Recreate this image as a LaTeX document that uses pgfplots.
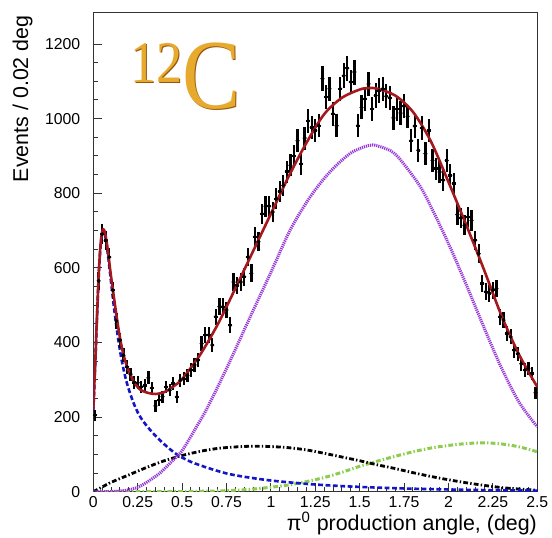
\documentclass[border=0pt]{standalone}
\usepackage{graphicx}
\usepackage{pgfplots}
\usepackage{pgfplotstable}
\pgfplotsset{compat=1.18}
\usepackage{fontspec}
\setmainfont{Liberation Sans}
\newfontfamily\goldserif{Liberation Serif}
\definecolor{fitred}{RGB}{165,25,30}
\definecolor{cblue}{RGB}{20,20,200}
\definecolor{cpurple}{RGB}{150,55,215}
\definecolor{cgreen}{RGB}{140,205,80}
\definecolor{goldA}{RGB}{232,170,45}
\definecolor{goldB}{RGB}{150,85,15}

\pgfplotstableread{
x y ey
0.01 205 14.3
0.03 565 23.8
0.05 690 26.3
0.07 673 25.9
0.09 629 25.1
0.11 540 23.2
0.13 458 21.4
0.15 406 20.1
0.17 366 19.1
0.19 335 18.3
0.21 315 17.7
0.23 293 17.1
0.25 292 17.1
0.27 281 16.8
0.29 285 16.9
0.31 305 17.5
0.33 278 16.7
0.35 230 15.2
0.37 245 15.7
0.39 255 16.0
0.41 281 16.8
0.43 272 16.5
0.45 290 17.0
0.47 254 15.9
0.49 299 17.3
0.51 303 17.4
0.53 312 17.7
0.55 326 18.1
0.57 340 18.4
0.59 353 18.8
0.61 397 19.9
0.63 420 20.5
0.65 420 20.5
0.67 393 19.8
0.69 469 21.7
0.71 496 22.3
0.73 496 22.3
0.75 487 22.1
0.77 446 21.1
0.79 562 23.7
0.81 553 23.5
0.83 562 23.7
0.85 576 24.0
0.87 629 25.1
0.89 585 24.2
0.91 683 26.1
0.93 670 25.9
0.95 745 27.3
0.97 765 27.7
0.99 765 27.7
1.01 750 27.4
1.03 785 28.0
1.05 805 28.4
1.07 821 28.7
1.09 858 29.3
1.11 875 29.6
1.13 900 30.0
1.15 941 30.7
1.17 879 29.6
1.19 948 30.8
1.21 994 31.5
1.23 976 31.2
1.25 968 31.1
1.27 981 31.3
1.29 1107 33.3
1.31 1058 32.5
1.33 1080 32.9
1.35 1013 31.8
1.37 981 31.3
1.39 1080 32.9
1.41 1115 33.4
1.43 1135 33.7
1.45 1098 33.1
1.47 1125 33.5
1.49 981 31.3
1.51 1030 32.1
1.53 1053 32.4
1.55 1093 33.1
1.57 1026 32.0
1.59 1062 32.6
1.61 1075 32.8
1.63 1080 32.9
1.65 1060 32.6
1.67 1055 32.5
1.69 1002 31.7
1.71 1026 32.0
1.73 1015 31.9
1.75 1033 32.1
1.77 1006 31.7
1.79 941 30.7
1.81 980 31.3
1.83 915 30.2
1.85 975 31.2
1.87 906 30.1
1.89 968 31.1
1.91 888 29.8
1.93 866 29.4
1.95 857 29.3
1.97 835 28.9
1.99 888 29.8
2.01 848 29.1
2.03 826 28.7
2.05 743 27.3
2.07 734 27.1
2.09 714 26.7
2.11 736 27.1
2.13 727 27.0
2.15 674 26.0
2.17 638 25.3
2.19 558 23.6
2.21 536 23.2
2.23 531 23.0
2.25 540 23.2
2.27 545 23.3
2.29 469 21.7
2.31 460 21.4
2.33 424 20.6
2.35 415 20.4
2.37 379 19.5
2.39 370 19.2
2.41 343 18.5
2.43 326 18.1
2.45 330 18.2
2.47 317 17.8
2.49 265 16.3
}\datatab

\begin{document}
\begin{tikzpicture}
\begin{axis}[
  at={(0,0)}, anchor=south west,
  scale only axis, width=222pt, height=239.5pt,
  xmin=0, xmax=2.5, ymin=0, ymax=1284,
  xtick={0,0.25,0.5,0.75,1,1.25,1.5,1.75,2,2.25,2.5},
  xticklabels={0,0.25,0.5,0.75,1,1.25,1.5,1.75,2,2.25,2.5},
  minor x tick num=4,
  ytick={0,200,400,600,800,1000,1200},
  minor y tick num=3,
  tick align=inside, xtick pos=lower, ytick pos=left,
  major tick length=4.5pt, minor tick length=2.2pt,
  tick style={black!80, line width=0.5pt},
  tick label style={font=\fontsize{7.9}{8}\selectfont},
  /pgf/number format/assume math mode=true,
  /pgf/number format/1000 sep={},
  yticklabel style={xshift=-3pt},
  xticklabel style={inner sep=0.4pt, yshift=-1.9pt},
  ylabel={Events / 0.02 deg},
  xlabel={π\textsuperscript{0} production angle, (deg)},
  ylabel style={at={(axis description cs:-0.1595,0.995)}, anchor=east, inner sep=0pt, font=\fontsize{10.7}{12}\selectfont},
  xlabel style={at={(axis description cs:1,-0.0815)}, anchor=base east, inner sep=0pt, font=\fontsize{10.7}{12}\selectfont},
  axis line style={line width=0.6pt, black!80},
]
\addplot[cgreen, line width=1.5pt, dash pattern=on 2.4pt off 1.1pt on 0.7pt off 1.1pt, smooth] coordinates {
(0,0) (0.3,0) (0.5,0.5) (0.7,2) (0.8,4) (0.9,7) (1.0,12) (1.1,18) (1.2,27) (1.3,38) (1.4,52) (1.5,68) (1.6,82) (1.7,95) (1.8,107) (1.9,117) (2.0,124) (2.1,129) (2.2,131) (2.3,128) (2.4,120) (2.5,107)};
\addplot[black, line width=1.4pt, dash pattern=on 2.4pt off 1.1pt on 0.7pt off 1.1pt, smooth] coordinates {
(0,0) (0.1,25) (0.2,45) (0.3,65) (0.4,83) (0.5,97) (0.6,108) (0.7,116) (0.8,120) (0.9,122) (1.0,121) (1.1,118) (1.2,112) (1.3,103) (1.4,93) (1.5,83) (1.6,72) (1.7,62) (1.8,51) (1.9,41) (2.0,32) (2.1,24) (2.2,17) (2.3,11) (2.4,7) (2.5,4)};
\addplot[cblue, line width=1.3pt, dash pattern=on 2.4pt off 1.3pt, smooth] coordinates {
(0,215) (0.01,330) (0.02,455) (0.03,572) (0.04,652) (0.05,692) (0.057,698) (0.065,690) (0.075,662) (0.085,625) (0.1,562) (0.12,480) (0.14,410) (0.16,352) (0.18,308) (0.2,274) (0.23,234) (0.26,204) (0.3,177) (0.35,150) (0.4,127) (0.47,100) (0.55,80) (0.65,63) (0.75,49) (0.85,40) (1.0,30) (1.2,21) (1.4,15) (1.6,11) (1.8,8) (2.0,6) (2.25,4) (2.5,3)};
\addplot[cpurple, line width=1.5pt, dash pattern=on 0.6pt off 0.45pt, smooth] coordinates {
(0,0) (0.1,0.5) (0.15,2) (0.2,5) (0.25,12) (0.3,25) (0.375,50) (0.45,85) (0.5,110) (0.57,165) (0.64,223) (0.75,330) (0.88,465) (1.0,588) (1.107,700) (1.2,775) (1.27,822) (1.35,866) (1.45,908) (1.55,928) (1.6,927) (1.7,905) (1.83,826) (1.9,765) (2.0,665) (2.1,555) (2.2,440) (2.3,330) (2.4,238) (2.5,174)};
\addplot[black, only marks, mark=*, mark size=0.8pt,
  error bars/.cd, x dir=both, x explicit, y dir=both, y explicit,
  error mark=none, error bar style={line width=1.15pt, black}]
  table[x=x, y=y, x error expr=0.01, y error=ey] {\datatab};
\addplot[fitred, line width=1.3pt, smooth] coordinates {
(0,220) (0.01,335) (0.02,460) (0.03,578) (0.04,658) (0.05,697) (0.057,703) (0.065,696) (0.075,670) (0.085,635) (0.1,577) (0.12,508) (0.14,442) (0.16,388) (0.18,350) (0.2,323) (0.23,294) (0.26,275) (0.3,266) (0.35,262) (0.4,267) (0.45,282) (0.5,302) (0.6,366) (0.7,448) (0.8,545) (0.9,645) (1.0,745) (1.1,845) (1.2,935) (1.3,1012) (1.4,1056) (1.5,1078) (1.55,1082) (1.6,1080) (1.7,1062) (1.8,1018) (1.9,940) (2.0,830) (2.1,715) (2.2,595) (2.3,470) (2.4,365) (2.5,281)};
\node[anchor=base west, inner sep=0pt, goldB] at ([xshift=0.7pt,yshift=-0.7pt]axis description cs:0.0827,0.801)
  {\goldserif\scalebox{1.04}[1.18]{\raisebox{11pt}{\fontsize{25}{25}\selectfont 12}\fontsize{42}{42}\selectfont C}};
\node[anchor=base west, inner sep=0pt, goldA] at (axis description cs:0.0827,0.801)
  {\goldserif\scalebox{1.04}[1.18]{\raisebox{11pt}{\fontsize{25}{25}\selectfont 12}\fontsize{42}{42}\selectfont C}};
\end{axis}
\pgfresetboundingbox
\path (-46.65pt,-22.65pt) rectangle (229.35pt,245.85pt);
\end{tikzpicture}
\end{document}
